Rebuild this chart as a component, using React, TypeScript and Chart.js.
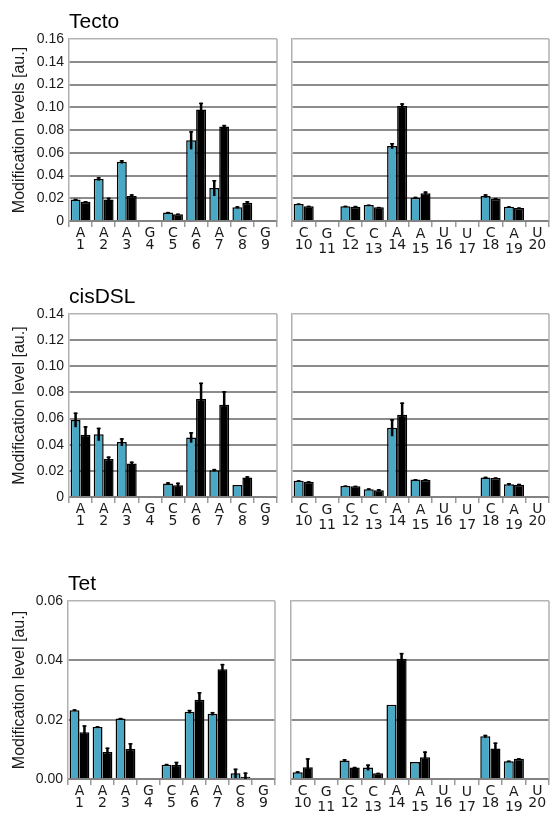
import React, { useEffect, useRef } from 'react';
import { Chart, registerables } from 'chart.js';
Chart.register(...registerables);

// ---------- categories ----------
const LEFT_BASES = ['A', 'A', 'A', 'G', 'C', 'A', 'A', 'C', 'G'];
const LEFT_POS = ['1', '2', '3', '4', '5', '6', '7', '8', '9'];
const RIGHT_BASES = ['C', 'G', 'C', 'C', 'A', 'A', 'U', 'U', 'C', 'A', 'U'];
const RIGHT_POS = ['10', '11', '12', '13', '14', '15', '16', '17', '18', '19', '20'];

// ---------- Tecto ----------
const TECTO_CYAN_L = [0.019, 0.037, 0.052, null, 0.0075, 0.071, 0.029, 0.012, null];
const TECTO_CYAN_L_ERR = [0.0005, 0.0015, 0.0015, null, 0.0005, 0.008, 0.007, 0.001, null];
const TECTO_BLACK_L = [0.017, 0.019, 0.022, null, 0.006, 0.098, 0.083, 0.016, null];
const TECTO_BLACK_L_ERR = [0.0005, 0.0015, 0.0015, null, 0.0005, 0.006, 0.0015, 0.0015, null];
const TECTO_CYAN_R = [0.015, null, 0.013, 0.014, 0.066, 0.0205, null, null, 0.022, 0.0125, null];
const TECTO_CYAN_R_ERR = [0.0004, null, 0.0004, 0.0004, 0.0025, 0.0008, null, null, 0.0015, 0.0004, null];
const TECTO_BLACK_R = [0.013, null, 0.0125, 0.012, 0.101, 0.0245, null, null, 0.0195, 0.0115, null];
const TECTO_BLACK_R_ERR = [0.0004, null, 0.0008, 0.0004, 0.0025, 0.0015, null, null, 0.0008, 0.0004, null];

// ---------- cisDSL ----------
const CIS_CYAN_L = [0.059, 0.048, 0.042, null, 0.0103, 0.0456, 0.0205, 0.0092, null];
const CIS_CYAN_L_ERR = [0.0056, 0.005, 0.003, null, 0.001, 0.004, 0.001, 0, null];
const CIS_BLACK_L = [0.0477, 0.029, 0.0256, null, 0.009, 0.075, 0.0705, 0.0149, null];
const CIS_BLACK_L_ERR = [0.0065, 0.002, 0.0015, null, 0.002, 0.0125, 0.0105, 0.001, null];
const CIS_CYAN_R = [0.0124, null, 0.0085, 0.006, 0.053, 0.0134, null, null, 0.015, 0.0098, null];
const CIS_CYAN_R_ERR = [0.0004, null, 0.0003, 0.0006, 0.0065, 0.0003, null, null, 0.0005, 0.0008, null];
const CIS_BLACK_R = [0.0116, null, 0.0083, 0.0052, 0.063, 0.0132, null, null, 0.0145, 0.0093, null];
const CIS_BLACK_R_ERR = [0.0004, null, 0.0003, 0.0008, 0.0093, 0.0005, null, null, 0.0005, 0.0008, null];

// ---------- Tet ----------
const TET_CYAN_L = [0.0232, 0.0175, 0.0204, null, 0.0048, 0.0227, 0.022, 0.0019, null];
const TET_CYAN_L_ERR = [0.0003, 0.0003, 0.0002, null, 0.0003, 0.0006, 0.0006, 0.0016, null];
const TET_BLACK_L = [0.0158, 0.0091, 0.0101, null, 0.0048, 0.0267, 0.037, 0.0008, null];
const TET_BLACK_L_ERR = [0.0023, 0.0015, 0.002, null, 0.001, 0.0026, 0.0018, 0.0014, null];
const TET_CYAN_R = [0.0023, null, 0.0062, 0.0039, 0.025, 0.0057, null, null, 0.0144, 0.006, null];
const TET_CYAN_R_ERR = [0.0003, null, 0.0005, 0.001, 0, 0, null, null, 0.0005, 0.0002, null];
const TET_BLACK_R = [0.004, null, 0.0039, 0.0019, 0.0405, 0.0073, null, null, 0.0103, 0.0068, null];
const TET_BLACK_R_ERR = [0.003, null, 0.0002, 0.0002, 0.002, 0.002, null, null, 0.002, 0.0002, null];

// ---------- axis settings ----------
const TECTO_MAX = 0.16;
const CIS_MAX = 0.14;
const TET_MAX = 0.06;
const STEP = 0.02;

const CYAN = '#49a9c4';
const BLACK = '#000000';

const errorBarPlugin = {
  id: 'errorBars',
  afterDatasetsDraw(chart: any) {
    const ctx = chart.ctx;
    const yScale = chart.scales.y;
    ctx.save();
    ctx.strokeStyle = '#000';
    ctx.lineCap = 'butt';
    chart.data.datasets.forEach((ds: any, di: number) => {
      const meta = chart.getDatasetMeta(di);
      meta.data.forEach((el: any, j: number) => {
        const v = ds.data[j];
        const e = ds.errors ? ds.errors[j] : null;
        if (v == null || e == null || e <= 0) return;
        const yTop = yScale.getPixelForValue(v + e);
        const yBot = yScale.getPixelForValue(Math.max(0, v - e));
        ctx.lineWidth = 2.5;
        ctx.beginPath();
        ctx.moveTo(el.x, yTop);
        ctx.lineTo(el.x, yBot);
        ctx.stroke();
        ctx.lineWidth = 1.5;
        ctx.beginPath();
        ctx.moveTo(el.x - 2, yTop + 0.75);
        ctx.lineTo(el.x + 2, yTop + 0.75);
        ctx.stroke();
      });
    });
    ctx.restore();
  },
};

const frameRightPlugin = {
  id: 'frameRight',
  beforeDatasetsDraw(chart: any) {
    const { ctx, chartArea } = chart;
    ctx.save();
    ctx.strokeStyle = '#b0b0b0';
    ctx.lineWidth = 1.5;
    ctx.beginPath();
    ctx.moveTo(chartArea.right, chartArea.top);
    ctx.lineTo(chartArea.right, chartArea.bottom);
    ctx.stroke();
    ctx.restore();
  },
};

type PanelProps = {
  side: 'left' | 'right';
  title?: string;
  yTitle?: string;
  bases: string[];
  pos: string[];
  cyan: (number | null)[];
  cyanErr: (number | null)[];
  black: (number | null)[];
  blackErr: (number | null)[];
  yMax: number;
  zeroLabel: string;
  plotTop: number;
  plotBottom: number;
  plotLeft: number;
  plotRight: number;
};

const TITLE_H = 29;
const XAXIS_H = 34;

function Panel(p: PanelProps) {
  const ref = useRef<HTMLCanvasElement>(null);
  const canvasLeft = p.side === 'left' ? 0 : 280;
  const canvasWidth = p.side === 'left' ? 280 : 274;
  const canvasTop = p.plotTop - TITLE_H;
  const canvasHeight = TITLE_H + (p.plotBottom - p.plotTop) + XAXIS_H;

  useEffect(() => {
    const labels = p.bases.map((b, i) => [b, p.pos[i]]);
    const isLeft = p.side === 'left';
    const chart = new Chart(ref.current as HTMLCanvasElement, {
      type: 'bar',
      data: {
        labels,
        datasets: [
          {
            data: p.cyan,
            errors: p.cyanErr,
            backgroundColor: CYAN,
            borderColor: '#000',
            borderWidth: 1.5,
            categoryPercentage: 0.86,
            barPercentage: 1.0,
          } as any,
          {
            data: p.black,
            errors: p.blackErr,
            backgroundColor: BLACK,
            borderColor: '#000',
            borderWidth: 1.5,
            categoryPercentage: 0.86,
            barPercentage: 1.0,
          } as any,
        ],
      },
      options: {
        animation: false,
        responsive: false,
        devicePixelRatio: 1,
        layout: {
          padding: {
            top: isLeft ? 0 : TITLE_H,
            left: isLeft ? 0 : p.plotLeft - canvasLeft,
            right: canvasLeft + canvasWidth - p.plotRight,
            bottom: 0,
          },
        },
        plugins: {
          legend: { display: false },
          tooltip: { enabled: false },
          title: {
            display: isLeft,
            text: p.title || '',
            align: 'start',
            fullSize: false,
            color: '#000',
            font: { family: 'Liberation Sans, Arial, sans-serif', size: 21, weight: 'normal', lineHeight: '24px' },
            padding: { top: 0, bottom: 5 },
          },
        },
        scales: {
          x: {
            offset: true,
            afterFit: (scale: any) => {
              scale.height = XAXIS_H;
            },
            grid: {
              display: true,
              offset: true,
              drawOnChartArea: false,
              drawTicks: true,
              tickLength: 6,
              color: '#9a9a9a',
              lineWidth: 1.5,
            },
            border: { display: true, color: '#828282', width: 2 },
            ticks: {
              autoSkip: false,
              maxRotation: 0,
              minRotation: 0,
              padding: 0,
              color: '#1a1a1a',
              font: (ctx: any) => ({
                family: 'DejaVu Sans, sans-serif',
                size: 14,
                lineHeight: !isLeft && ctx.index % 2 === 1 ? '15px' : '12px',
              }),
            },
          },
          y: {
            min: 0,
            max: p.yMax,
            afterFit: (scale: any) => {
              scale.width = isLeft ? p.plotLeft : 0;
            },
            grid: {
              display: true,
              drawTicks: false,
              color: (ctx: any) =>
                ctx.tick && ctx.tick.value >= p.yMax - 1e-9 ? '#b4b4b4' : '#8c8c8c',
              lineWidth: (ctx: any) => (ctx.tick && ctx.tick.value >= p.yMax - 1e-9 ? 1.5 : 2),
            },
            border: { display: true, color: '#b0b0b0', width: 1.5 },
            ticks: {
              display: isLeft,
              stepSize: STEP,
              padding: 5,
              color: '#1a1a1a',
              font: { family: 'Liberation Sans, Arial, sans-serif', size: 14 },
              callback: (v: any) => {
                const n = Number(v);
                if (Math.abs(n) < 1e-9) return p.zeroLabel;
                return n.toFixed(2);
              },
            },
            title: {
              display: isLeft && !!p.yTitle,
              text: p.yTitle || '',
              color: '#1a1a1a',
              font: { family: 'Liberation Sans, Arial, sans-serif', size: 16 },
              padding: { top: 9.5, bottom: 0 },
            },
          },
        },
      } as any,
      plugins: [frameRightPlugin, errorBarPlugin],
    });
    return () => chart.destroy();
  }, []);

  return (
    <canvas
      ref={ref}
      width={canvasWidth}
      height={canvasHeight}
      style={{
        position: 'absolute',
        left: canvasLeft,
        top: canvasTop,
        width: canvasWidth,
        height: canvasHeight,
      }}
    />
  );
}

export default function App() {
  return (
    <div
      style={{
        position: 'fixed',
        left: 0,
        top: 0,
        width: 554,
        height: 815,
        background: '#fff',
        overflow: 'hidden',
      }}
    >
      <Panel side="left" title="Tecto" yTitle="Modification levels [au.]" bases={LEFT_BASES} pos={LEFT_POS}
        cyan={TECTO_CYAN_L} cyanErr={TECTO_CYAN_L_ERR} black={TECTO_BLACK_L} blackErr={TECTO_BLACK_L_ERR}
        yMax={TECTO_MAX} zeroLabel="0" plotTop={39} plotBottom={221} plotLeft={69} plotRight={277} />
      <Panel side="right" bases={RIGHT_BASES} pos={RIGHT_POS}
        cyan={TECTO_CYAN_R} cyanErr={TECTO_CYAN_R_ERR} black={TECTO_BLACK_R} blackErr={TECTO_BLACK_R_ERR}
        yMax={TECTO_MAX} zeroLabel="0" plotTop={39} plotBottom={221} plotLeft={292} plotRight={549} />

      <Panel side="left" title="cisDSL" yTitle="Modification level [au.]" bases={LEFT_BASES} pos={LEFT_POS}
        cyan={CIS_CYAN_L} cyanErr={CIS_CYAN_L_ERR} black={CIS_BLACK_L} blackErr={CIS_BLACK_L_ERR}
        yMax={CIS_MAX} zeroLabel="0" plotTop={314} plotBottom={497} plotLeft={69} plotRight={277} />
      <Panel side="right" bases={RIGHT_BASES} pos={RIGHT_POS}
        cyan={CIS_CYAN_R} cyanErr={CIS_CYAN_R_ERR} black={CIS_BLACK_R} blackErr={CIS_BLACK_R_ERR}
        yMax={CIS_MAX} zeroLabel="0" plotTop={314} plotBottom={497} plotLeft={292} plotRight={549} />

      <Panel side="left" title="Tet" yTitle="Modification level [au.]" bases={LEFT_BASES} pos={LEFT_POS}
        cyan={TET_CYAN_L} cyanErr={TET_CYAN_L_ERR} black={TET_BLACK_L} blackErr={TET_BLACK_L_ERR}
        yMax={TET_MAX} zeroLabel="0.00" plotTop={601} plotBottom={779} plotLeft={68} plotRight={275} />
      <Panel side="right" bases={RIGHT_BASES} pos={RIGHT_POS}
        cyan={TET_CYAN_R} cyanErr={TET_CYAN_R_ERR} black={TET_BLACK_R} blackErr={TET_BLACK_R_ERR}
        yMax={TET_MAX} zeroLabel="0.00" plotTop={601} plotBottom={779} plotLeft={291} plotRight={549} />
    </div>
  );
}
